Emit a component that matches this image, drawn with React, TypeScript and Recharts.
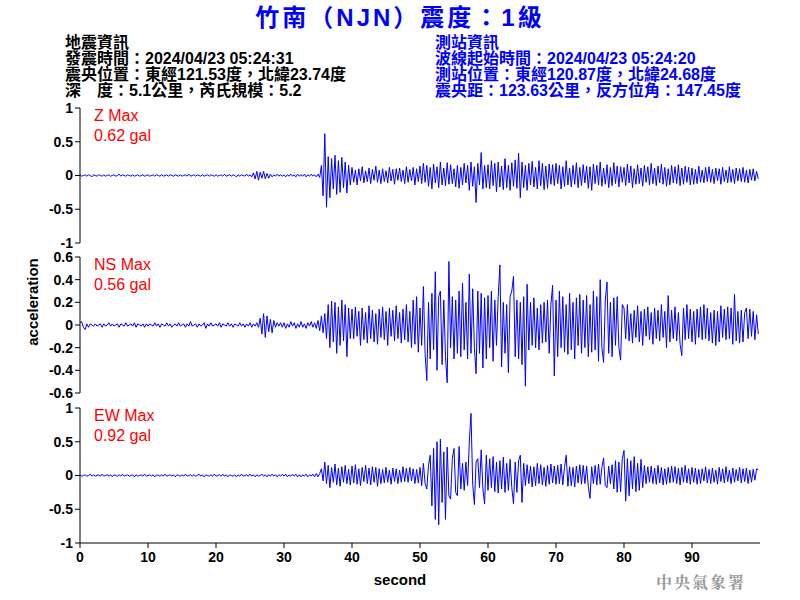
import React from 'react';
import { LineChart, Line, XAxis, YAxis } from 'recharts';

// sampling step of the traces, seconds
const STEP = 0.25;

// vertical (Z) acceleration, hundredths of gal, one row = 10 s
const Z_GAL = [
  1, -1, 0, 1, -1, 1, 0, -2, 1, 0, -1, 1, 0, -1, 1, -1, 0, 1, -1, 0, 1, -1, 0, 2, -1, 1, 0, -1, 1, 0, -1, 1, -1, 0, 1, -1, 0, 1, -1, 0,
  1, -1, 0, 1, -1, 1, 0, -1, 1, -1, 0, 1, -1, 1, 0, -1, 1, 0, -1, 1, -1, 0, 1, -1, 2, -1, 0, 1, -1, 1, 0, -1, 1, -1, 0, 1, -1, 1, 0, -1,
  1, -1, 0, 1, -1, 2, -1, 0, 1, -1, 1, 0, -2, 1, -1, 1, 0, -1, 2, -1, 1, -2, 4, -5, 6, -7, 5, -4, 6, -5, 3, -4, 2, -2, 1, -1, 2, -1, 1, -1,
  1, -2, 1, -1, 2, -1, 1, -2, 2, -1, 1, -1, 2, -2, 1, -1, 2, -1, 1, -2, 2, -3, 15, -30, 62, -47, 28, -33, 25, -20, 30, -28, 22, -25, 27, -18, 20, -26, 15, -14,
  12, -10, 8, -14, 10, -8, 13, -11, 7, -9, 11, -12, 9, -7, 14, -10, 8, -12, 10, -9, 7, -11, 12, -8, 9, -13, 10, -7, 11, -9, 8, -12, 13, -10, 9, -8, 12, -14, 10, -9,
  14, -12, 18, -10, 15, -16, 12, -20, 17, -11, 13, -18, 20, -14, 11, -15, 19, -13, 16, -12, 10, -17, 15, -19, 12, -14, 18, -11, 15, -22, 20, -16, 13, -40, 18, -14, 34, -20, 15, -18,
  16, -20, 22, -15, 18, -24, 20, -17, 14, -21, 25, -18, 15, -22, 19, -16, 23, -19, 33, -33, 20, -18, 15, -22, 18, -14, 21, -17, 12, -20, 22, -15, 18, -21, 14, -19, 17, -13, 16, -15,
  18, -12, 15, -20, 13, -16, 22, -14, 11, -17, 15, -13, 19, -18, 12, -15, 16, -11, 14, -19, 13, -22, 17, -12, 15, -14, 20, -16, 11, -13, 16, -18, 12, -15, 19, -12, 14, -17, 13, -10,
  12, -15, 17, -11, 14, -18, 10, -13, 16, -12, 11, -16, 15, -10, 13, -14, 18, -12, 11, -15, 14, -11, 17, -13, 12, -16, 10, -14, 15, -11, 13, -12, 16, -15, 11, -13, 14, -10, 12, -14,
  11, -13, 9, -12, 14, -10, 8, -11, 12, -9, 13, -10, 9, -12, 11, -8, 10, -13, 12, -9, 8, -11, 13, -10, 9, -12, 11, -8, 10, -9, 12, -10, 8, -11, 9, -7, 10, -8, 6, -5,
];

// north-south acceleration, hundredths of gal
const NS_GAL = [
  2, 3, -2, -4, 1, -2, 1, 0, -1, 1, -1, 0, 1, -2, 1, -1, 0, 2, -1, 1, -1, 0, 1, -2, 1, 0, -1, 2, -1, 0, 1, -1, 2, -2, 1, 0, -1, 1, -2, 1,
  -1, 1, 0, -1, 2, -1, 1, -2, 1, 0, -1, 2, -1, 1, -2, 0, 1, -1, 2, -1, 0, 1, -2, 1, -1, 3, -1, 0, 1, -2, 1, -1, 0, 2, -3, 1, -1, 2, -1, 0,
  1, -1, 2, -2, 1, 0, -1, 2, -1, 1, -2, 1, 0, -1, 2, -1, 1, -2, 1, -1, 2, -2, 1, -1, 2, -2, 6, -8, 10, -11, 8, -6, 5, -7, 4, -2, 2, -1, 2, -2,
  2, -3, 1, -2, 3, -1, 2, -3, 1, -2, 3, -2, 1, -3, 2, -1, 3, -2, 2, -3, 4, -5, 8, -7, 10, -12, 18, -20, 21, -15, 20, -25, 16, -18, 22, -14, 18, -28, 15, -12,
  14, -12, 16, -10, 12, -18, 15, -13, 11, -16, 17, -12, 13, -15, 10, -17, 14, -11, 16, -13, 12, -18, 15, -10, 13, -14, 17, -12, 11, -16, 14, -13, 18, -15, 12, -20, 22, -17, 25, -24,
  15, -18, 34, -25, -49, 20, -30, 28, -22, 47, -40, 25, 30, -35, 22, -28, -51, 56, -20, 25, -30, 22, -25, 30, -28, 37, -22, 20, -30, 45, -25, 32, -20, -43, 30, -25, 28, -38, 24, -30,
  26, -20, 30, -32, 22, -18, 25, 53, -37, 20, -25, 18, -42, 25, 30, 43, -28, 22, -30, 20, -35, 25, -54, 36, -22, 20, -18, 24, -20, 15, -22, 18, -16, 20, -15, 22, -25, 18, 35, -45,
  22, -28, 30, -20, 25, -24, 18, -26, 28, -22, 20, -30, 24, -18, 27, -25, 22, -20, 26, -28, 18, -24, 30, -22, 25, -32, 40, -20, -33, 22, 38, -25, 20, -28, 24, -18, 25, -20, -31, 18,
  15, -12, 18, -14, 10, -16, 13, -11, 17, -15, 12, -18, 14, -10, 16, -13, 11, -17, 15, -12, 13, -14, 18, -11, 12, -20, 26, -15, 13, -12, 16, -14, 11, -17, -27, 15, -13, 18, -12, 14,
  -15, 12, -17, 14, -11, 16, -13, 18, -12, 15, -14, 11, -16, 13, -18, 12, -15, 17, -11, 14, -13, 16, -12, 15, -17, 27, -14, 12, -16, 13, -15, 11, 15, -12, 14, -10, 12, -13, 9, -8,
];

// east-west acceleration, hundredths of gal
const EW_GAL = [
  1, -1, 0, 1, -1, 0, 2, -1, 1, -1, 0, 1, -1, 2, -1, 0, 1, -1, 1, -2, 1, 0, -1, 1, -1, 2, -1, 0, 1, -1, 0, 1, -2, 1, -1, 0, 1, -1, 2, -1,
  0, 1, -1, 1, -2, 1, 0, -1, 1, -1, 2, -1, 0, 1, -1, 1, -2, 1, 0, -1, 1, -1, 2, -1, 0, 1, -1, 1, -1, 0, 2, -1, 1, -2, 1, 0, -1, 1, -1, 2,
  -1, 0, 1, -1, 2, -1, 1, -2, 1, 0, -1, 1, -2, 1, -1, 2, -1, 0, 1, -1, 2, -1, 1, -2, 1, -1, 0, 2, -1, 1, -2, 1, -1, 2, -1, 1, -2, 1, -1, 2,
  -1, 2, -2, 1, -1, 2, -1, 2, -2, 1, -2, 1, -1, 2, -2, 1, -1, 2, -2, 3, -2, 3, 10, -8, 20, -12, 15, -18, 12, -10, 17, -14, 11, -16, 13, -10, 15, -12, 9, -14,
  14, -11, 16, -13, 10, -15, 12, -9, 15, -12, 11, -14, 13, -10, 12, -16, 10, -12, 9, -11, 12, -10, 8, -13, 11, -9, 10, -12, 8, -10, 13, -9, 11, -10, 12, -8, 10, -12, 9, -11,
  12, -15, 18, -12, -20, 15, 30, -45, 40, -65, 50, -73, 54, -40, 35, -65, 42, -30, -35, 25, 40, -25, -30, 43, -20, 18, -22, 20, -15, 50, 92, -13, -43, 20, 25, -18, 38, -20, -42, 30,
  -22, 25, -18, 28, -24, 20, -26, 22, -20, 27, -25, 18, -22, 24, -18, -42, 20, -25, 22, 30, -40, 18, -15, 16, -12, 14, -17, 13, -15, 18, -12, 16, -14, 12, -16, 15, -13, 17, -11, 14,
  -13, 15, -12, 17, -14, 12, 30, -16, 13, -15, 12, -17, 14, -11, 16, -13, 15, -12, 14, -16, -34, 13, -12, 15, -14, 17, -13, 12, 26, -15, -18, 14, -12, 16, -20, 22, -25, 20, -24, 25,
  37, -38, 25, -30, 22, -20, 28, -24, 18, -22, 24, -18, 15, -12, 13, -10, 14, -12, 11, -13, 15, -11, 12, -14, 10, -13, 12, -11, 14, -10, 13, -12, 11, -14, 12, -10, 15, -11, 10, -13,
  12, -10, 11, -13, 9, -12, 10, -8, 13, -11, 9, -12, 11, -10, 8, -13, 12, -9, 10, -11, 13, -9, 8, -12, 11, -10, 9, -8, 12, -11, 10, -9, 11, -12, 8, -10, 9, -7, 10, 8,
];

const X_TICKS = [0, 10, 20, 30, 40, 50, 60, 70, 80, 90];
const TICKS_1G = [-1, -0.5, 0, 0.5, 1];
const TICKS_06 = [-0.6, -0.4, -0.2, 0, 0.2, 0.4, 0.6];

const LEFT_INFO = ['地震資訊', '發震時間：2024/04/23 05:24:31', '震央位置：東經121.53度，北緯23.74度', '深　度：5.1公里，芮氏規模：5.2'];
const RIGHT_INFO = ['測站資訊', '波線起始時間：2024/04/23 05:24:20', '測站位置：東經120.87度，北緯24.68度', '震央距：123.63公里，反方位角：147.45度'];

const toRows = (vals: number[]) => vals.map((v, i) => ({ t: i * STEP, v: v / 100 }));

const LATIN = '"Liberation Sans", Arial, "Noto Sans CJK TC", sans-serif';
const tickStyle = { fill: '#000', fontSize: 14, fontWeight: 700, fontFamily: LATIN };

type PanelProps = {
  top: number;
  height: number;
  data: { t: number; v: number }[];
  ticks: number[];
  lim: number;
  bottomAxis?: boolean;
  name: string;
  max: string;
};

const Panel = ({ top, height, data, ticks, lim, bottomAxis, name, max }: PanelProps) => (
  <div style={{ position: 'absolute', left: 0, top, width: 800, height }}>
    <LineChart width={800} height={height} data={data} margin={{ top: 8, right: 40, bottom: bottomAxis ? 27 : 7, left: 0 }}>
      <XAxis
        type="number"
        dataKey="t"
        domain={[0, 100]}
        ticks={X_TICKS}
        hide={!bottomAxis}
        height={30}
        tickSize={5}
        tickMargin={4}
        axisLine={{ stroke: '#000' }}
        tickLine={{ stroke: '#000' }}
        tick={tickStyle}
      />
      <YAxis
        type="number"
        domain={[-lim, lim]}
        ticks={ticks}
        width={80}
        tickSize={5}
        interval={0}
        axisLine={{ stroke: '#000' }}
        tickLine={{ stroke: '#000' }}
        tick={tickStyle}
      />
      <Line type="linear" dataKey="v" stroke="#0000ff" strokeWidth={1} dot={false} isAnimationActive={false} />
    </LineChart>
    <div style={{ position: 'absolute', left: 94, top: 6, color: '#ff0000', fontFamily: LATIN, fontSize: 16, lineHeight: '20px' }}>
      <div>{name} Max</div>
      <div>{max} gal</div>
    </div>
  </div>
);

const App = () => {
  return (
    <div style={{ position: 'absolute', left: 0, top: 0, width: 800, height: 600, background: '#fff', overflow: 'hidden' }}>
      <div style={{ position: 'absolute', left: 0, top: 2, width: 800, textAlign: 'center', color: '#0000ff', fontSize: 24, fontWeight: 700, letterSpacing: 3, lineHeight: '32px', fontFamily: LATIN }}>
        竹南（NJN）震度：1級
      </div>
      <div style={{ position: 'absolute', left: 65, top: 35, color: '#000', fontSize: 16, fontWeight: 700, lineHeight: '16px', fontFamily: LATIN }}>
        {LEFT_INFO.map((s) => <div key={s}>{s}</div>)}
      </div>
      <div style={{ position: 'absolute', left: 435, top: 35, color: '#0000ff', fontSize: 16, fontWeight: 700, lineHeight: '16px', fontFamily: LATIN }}>
        {RIGHT_INFO.map((s) => <div key={s}>{s}</div>)}
      </div>

      <Panel top={100} height={150} data={toRows(Z_GAL)} ticks={TICKS_1G} lim={1} name="Z" max="0.62" />
      <Panel top={249} height={151} data={toRows(NS_GAL)} ticks={TICKS_06} lim={0.6} name="NS" max="0.56" />
      <Panel top={400} height={200} data={toRows(EW_GAL)} ticks={TICKS_1G} lim={1} bottomAxis name="EW" max="0.92" />

      <div style={{ position: 'absolute', left: 32, top: 302, transform: 'translate(-50%, -50%) rotate(-90deg)', fontSize: 15, fontWeight: 700, fontFamily: LATIN, whiteSpace: 'nowrap' }}>
        acceleration
      </div>
      <div style={{ position: 'absolute', left: 0, top: 571, width: 800, textAlign: 'center', fontSize: 15, fontWeight: 700, fontFamily: LATIN }}>
        second
      </div>
      <div style={{ position: 'absolute', left: 656, top: 570, color: '#999', fontSize: 16, fontWeight: 700, letterSpacing: 2, fontFamily: '"Noto Serif CJK TC", "Noto Sans CJK TC", serif' }}>
        中央氣象署
      </div>
    </div>
  );
};

export default App;
